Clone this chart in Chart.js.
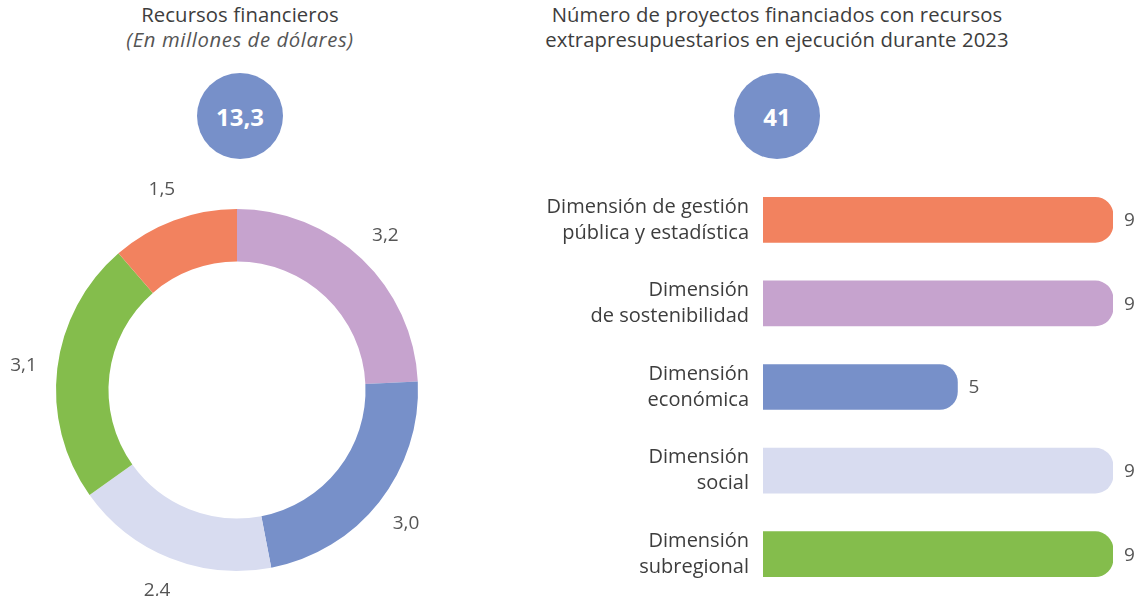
<!DOCTYPE html>
<html>
<head>
<meta charset="utf-8">
<script src="https://cdn.jsdelivr.net/npm/chart.js@4"></script>
<style>
  html, body { margin:0; padding:0; background:#fff; }
  body { width:1142px; height:596px; position:relative; overflow:hidden; font-family: "Open Sans", Lato, sans-serif; color:#3d3d3d; }
  .title { position:absolute; text-align:center; font-size:20.3px; line-height:25px; white-space:nowrap; letter-spacing:0.1px; }
  .title i { color:#555; letter-spacing:0.6px; }
  .circle { position:absolute; width:86px; height:86px; border-radius:50%; background:#7790C9; color:#fff; font-weight:bold; font-size:24px; display:flex; align-items:center; justify-content:center; }
  .wrap { position:absolute; }
</style>
</head>
<body>
<div class="title" style="left:40px; top:2px; width:400px;">Recursos financieros<br><i>(En millones de dólares)</i></div>
<div class="title" style="left:527px; top:2px; width:500px;">Número de proyectos financiados con recursos<br>extrapresupuestarios en ejecución durante 2023</div>
<div class="circle" style="left:197px; top:73px;">13,3</div>
<div class="circle" style="left:734px; top:73px;">41</div>
<div class="wrap" style="left:0px; top:170px; width:475px; height:426px;"><canvas id="donut"></canvas></div>
<div class="wrap" style="left:530px; top:170px; width:612px; height:426px;"><canvas id="bars"></canvas></div>
<script>
// Doughnut: financial resources (millions USD), clockwise from top
const donutLabels = ['Dimensión de sostenibilidad', 'Dimensión económica', 'Dimensión social', 'Dimensión subregional', 'Dimensión de gestión pública y estadística'];
const donutValues = [3.2, 3.0, 2.4, 3.1, 1.5];
const donutColors = ['#C6A3CE', '#7790C9', '#D8DCF0', '#84BD4C', '#F2825F'];

// Bars: number of projects
const barLabels = [
  ['Dimensión de gestión', 'pública y estadística'],
  ['Dimensión', 'de sostenibilidad'],
  ['Dimensión', 'económica'],
  ['Dimensión', 'social'],
  ['Dimensión', 'subregional']
];
const barValues = [9, 9, 5, 9, 9];
const barColors = ['#F2825F', '#C6A3CE', '#7790C9', '#D8DCF0', '#84BD4C'];

const fmt = v => v.toFixed(1).replace('.', ',');
const FONT = '"Open Sans", Lato, sans-serif';

const donutLabelPlugin = {
  id: 'donutLabels',
  afterDatasetsDraw(chart) {
    const ctx = chart.ctx;
    const meta = chart.getDatasetMeta(0);
    ctx.save();
    ctx.font = '19px ' + FONT;
    ctx.fillStyle = '#555';
    ctx.textAlign = 'center';
    ctx.textBaseline = 'middle';
    meta.data.forEach((arc, i) => {
      const p = arc.getProps(['x', 'y', 'startAngle', 'endAngle', 'outerRadius'], true);
      const mid = (p.startAngle + p.endAngle) / 2;
      const r = p.outerRadius + 34;
      ctx.fillText(fmt(chart.data.datasets[0].data[i]), p.x + Math.cos(mid) * r, p.y + Math.sin(mid) * r + 1);
    });
    ctx.restore();
  }
};

new Chart(document.getElementById('donut'), {
  type: 'doughnut',
  data: { labels: donutLabels, datasets: [{ data: donutValues, backgroundColor: donutColors, borderWidth: 0 }] },
  options: {
    responsive: true, maintainAspectRatio: false, animation: false,
    cutout: '71%',
    layout: { padding: { top: 39, bottom: 25, left: 56, right: 57 } },
    plugins: { legend: { display: false }, tooltip: { enabled: false } }
  },
  plugins: [donutLabelPlugin]
});

const barValuePlugin = {
  id: 'barValues',
  afterDatasetsDraw(chart) {
    const ctx = chart.ctx;
    const meta = chart.getDatasetMeta(0);
    ctx.save();
    ctx.font = '19px ' + FONT;
    ctx.fillStyle = '#555';
    ctx.textAlign = 'left';
    ctx.textBaseline = 'middle';
    meta.data.forEach((bar, i) => {
      const p = bar.getProps(['x', 'y'], true);
      ctx.fillText(String(chart.data.datasets[0].data[i]), p.x + 11, p.y + 1);
    });
    ctx.restore();
  }
};

new Chart(document.getElementById('bars'), {
  type: 'bar',
  data: { labels: barLabels, datasets: [{ data: barValues, backgroundColor: barColors, barThickness: 45, borderRadius: 18, borderSkipped: 'start' }] },
  options: {
    indexAxis: 'y',
    responsive: true, maintainAspectRatio: false, animation: false,
    layout: { padding: { top: 8, bottom: 0, left: 0, right: 29 } },
    scales: {
      x: { display: false, min: 0, max: 9 },
      y: {
        grid: { display: false, drawTicks: false },
        border: { display: false },
        ticks: { color: '#3d3d3d', padding: 14, font: { family: FONT, size: 20, lineHeight: 1.3 } },
        afterFit(scale) { scale.width = 233; scale.paddingTop = 0; scale.paddingBottom = 0; }
      }
    },
    plugins: { legend: { display: false }, tooltip: { enabled: false } }
  },
  plugins: [barValuePlugin]
});
</script>
</body>
</html>
